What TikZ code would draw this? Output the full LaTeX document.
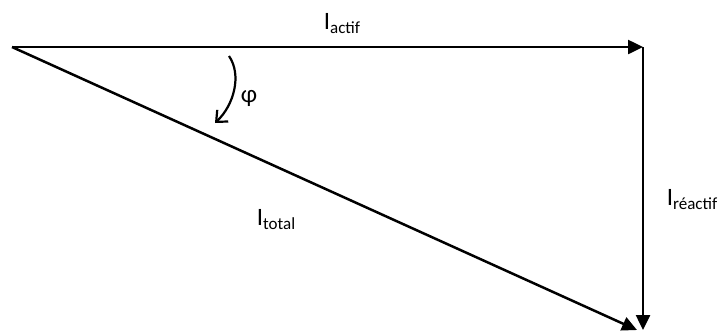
\documentclass[tikz,border=0pt]{standalone}
\usepackage{fontspec}
\setmainfont{Carlito}
\usetikzlibrary{arrows.meta}
\newcommand{\lbl}[2]{\fontsize{25}{28}\selectfont #1\raisebox{-4pt}{\fontsize{17}{20}\selectfont #2}}
\tikzset{
  vec/.style={line width=2.5pt, -{Triangle[length=15pt,width=14pt]}},
  lab/.style={inner sep=0pt, font=\fontsize{25}{28}\selectfont},
}
\begin{document}
\begin{tikzpicture}[x=1pt,y=-1pt]
\useasboundingbox (0,0) rectangle (722,333);
\coordinate (O) at (12,47);
\coordinate (A) at (643,47);
\coordinate (B) at (643,330);
\coordinate (C) at (637,330);
\coordinate (P1) at (229,56);
\coordinate (P2) at (215,123);
\draw[vec] (O) -- (A);
\draw[vec] (A) -- (B);
\draw[vec] (O) -- (C);
\draw[line width=2.2pt, -{Straight Barb[length=9pt,width=16pt,line width=2.2pt]}] (P1) .. controls (242,75) and (234,105) .. (P2);
\node[lab] (ia) at (342,24) {\lbl{I}{actif}};
\node[lab] (phi) at (249,98) {φ};
\node[lab] (it) at (276,220) {\lbl{I}{total}};
\node[lab] (ir) at (692,200) {\lbl{I}{réactif}};
\end{tikzpicture}
\end{document}
